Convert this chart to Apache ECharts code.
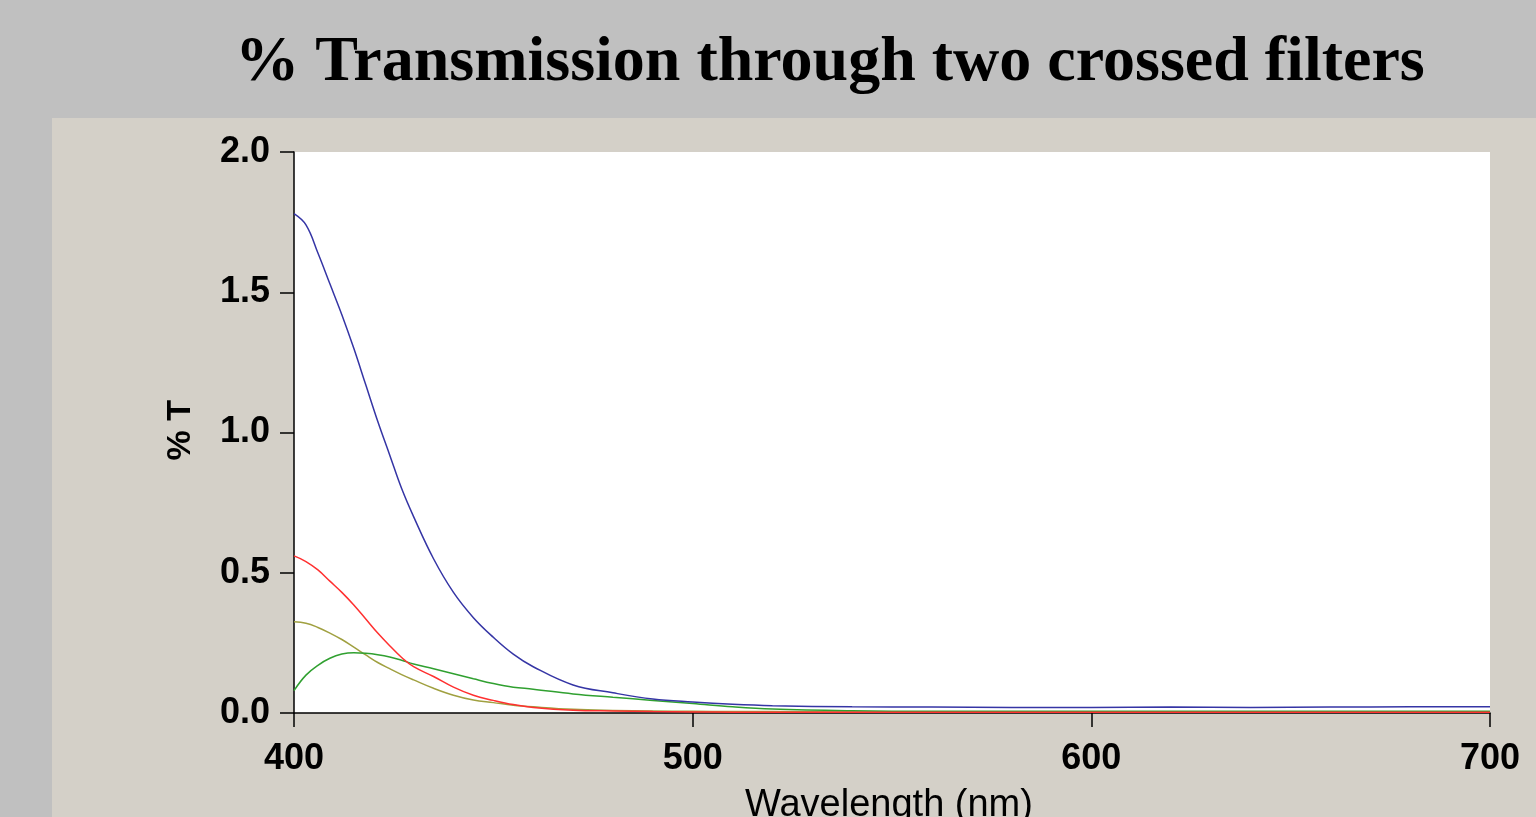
<!DOCTYPE html>
<html>
<head>
<meta charset="utf-8">
<title>% Transmission</title>
<script src="https://cdn.jsdelivr.net/npm/echarts@6/dist/echarts.min.js"></script>
<style>
html, body { margin: 0; padding: 0; background: #c0c0c0; }
#chart { width: 1536px; height: 817px; }
</style>
</head>
<body>
<div id="chart"></div>
<script>
// wavelength (nm)
var wavelengths = [400, 403, 406, 409, 412, 415, 418, 421, 424, 427, 430, 435, 440, 445, 450, 455, 460, 470, 480, 490, 500, 510, 520, 540, 560, 580, 600, 620, 640, 660, 680, 700];

// %T for each curve
var blueT  = [1.78, 1.74, 1.64, 1.53, 1.42, 1.30, 1.17, 1.04, 0.92, 0.80, 0.70, 0.55, 0.43, 0.34, 0.27, 0.21, 0.165, 0.10, 0.072, 0.05, 0.039, 0.031, 0.026, 0.022, 0.021, 0.02, 0.02, 0.021, 0.02, 0.021, 0.022, 0.022];
var redT   = [0.56, 0.54, 0.51, 0.47, 0.43, 0.385, 0.335, 0.285, 0.24, 0.198, 0.165, 0.13, 0.092, 0.063, 0.045, 0.03, 0.02, 0.01, 0.007, 0.005, 0.004, 0.003, 0.003, 0.003, 0.003, 0.003, 0.003, 0.003, 0.003, 0.003, 0.003, 0.003];
var oliveT = [0.325, 0.32, 0.305, 0.285, 0.262, 0.235, 0.207, 0.18, 0.158, 0.137, 0.118, 0.088, 0.063, 0.046, 0.037, 0.028, 0.022, 0.013, 0.009, 0.007, 0.006, 0.005, 0.005, 0.004, 0.004, 0.004, 0.004, 0.004, 0.004, 0.004, 0.004, 0.004];
var greenT = [0.08, 0.135, 0.17, 0.195, 0.21, 0.215, 0.213, 0.208, 0.2, 0.188, 0.175, 0.158, 0.14, 0.122, 0.105, 0.092, 0.085, 0.068, 0.056, 0.045, 0.034, 0.022, 0.014, 0.008, 0.006, 0.006, 0.006, 0.006, 0.006, 0.006, 0.006, 0.006];

var yTicks = [0, 0.5, 1.0, 1.5, 2.0];
var xTicks = [400, 500, 600, 700];

function pairs(ys) {
	return wavelengths.map(function(x, i) { return [x, ys[i]]; });
}

function line(name, color, ys) {
	return {
		name: name,
		type: 'line',
		data: pairs(ys),
		showSymbol: false,
		smooth: 0.4,
		lineStyle: { color: color, width: 1.5 },
		animation: false
	};
}

var chart = echarts.init(document.getElementById('chart'));

var option = {
	backgroundColor: '#c0c0c0',
	animation: false,
	title: {
		text: '% Transmission through two crossed filters',
		left: 825,
		top: 26,
		textAlign: 'center',
		textStyle: {
			fontFamily: 'Liberation Serif, Times New Roman, serif',
			fontWeight: 'bold',
			fontSize: 64,
			color: '#000'
		}
	},
	graphic: [
		// grey panel behind the plot
		{ type: 'rect', z: -10, left: 52, top: 118, shape: { width: 1484, height: 699 }, style: { fill: '#d4d0c8' } },
		{
			type: 'text', left: 164, top: 400, rotation: Math.PI / 2,
			style: { text: '% T', font: 'bold 34px Liberation Sans, Arial, sans-serif', fill: '#000', textAlign: 'center', textVerticalAlign: 'middle' }
		},
		{
			type: 'text', left: 745, top: 787,
			style: { text: 'Wavelength (nm)', font: '38px Liberation Sans, Arial, sans-serif', fill: '#000' }
		}
	],
	grid: {
		left: 294,
		top: 152,
		right: 46,
		bottom: 104,
		show: true,
		backgroundColor: '#ffffff',
		borderWidth: 0
	},
	xAxis: {
		type: 'value',
		min: 400,
		max: 700,
		interval: 100,
		axisLine: { show: true, lineStyle: { color: '#000', width: 1.5 } },
		axisTick: { show: true, length: 14, lineStyle: { color: '#000', width: 1.5 } },
		splitLine: { show: false },
		axisLabel: {
			margin: 28,
			fontFamily: 'Liberation Sans, Arial, sans-serif',
			fontWeight: 'bold',
			fontSize: 36,
			color: '#000',
			customValues: xTicks
		}
	},
	yAxis: {
		type: 'value',
		min: 0,
		max: 2,
		interval: 0.5,
		axisLine: { show: true, lineStyle: { color: '#000', width: 1.5 } },
		axisTick: { show: true, length: 14, lineStyle: { color: '#000', width: 1.5 } },
		splitLine: { show: false },
		axisLabel: {
			margin: 24,
			fontFamily: 'Liberation Sans, Arial, sans-serif',
			fontWeight: 'bold',
			fontSize: 36,
			color: '#000',
			customValues: yTicks,
			formatter: function(v) { return v.toFixed(1); }
		}
	},
	series: [
		line('olive', '#a0a040', oliveT),
		line('green', '#30a030', greenT),
		line('red', '#ff3030', redT),
		line('blue', '#3535a5', blueT)
	]
};

chart.setOption(option);
</script>
</body>
</html>
